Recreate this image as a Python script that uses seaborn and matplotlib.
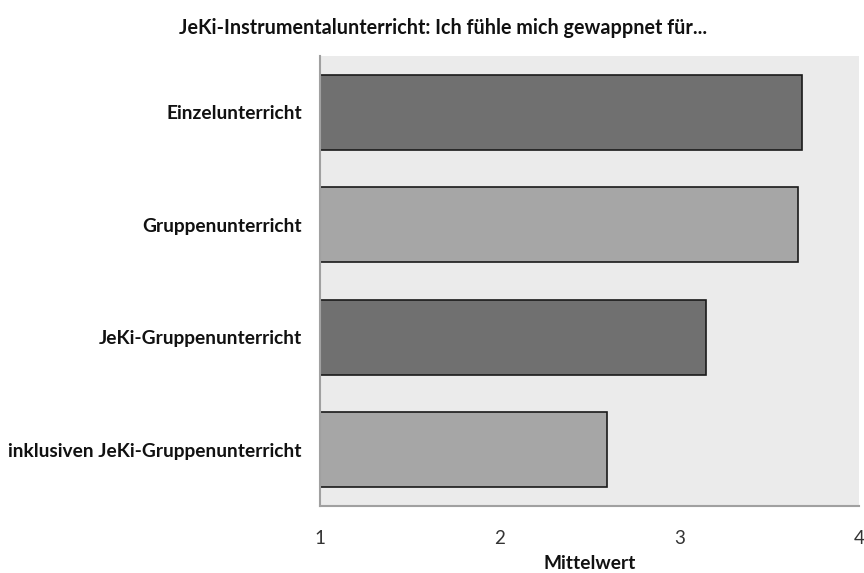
import matplotlib
matplotlib.use("Agg")
import matplotlib.pyplot as plt
import seaborn as sns
import pandas as pd

categories = ["Einzelunterricht", "Gruppenunterricht", "JeKi-Gruppenunterricht",
              "inklusiven JeKi-Gruppenunterricht"]
values = [3.68, 3.66, 3.15, 2.60]
bar_colors = ["#707070", "#a6a6a6", "#707070", "#a6a6a6"]
xticks = [1, 2, 3, 4]
title = "JeKi-Instrumentalunterricht: Ich fühle mich gewappnet für..."
xlabel = "Mittelwert"

sns.set_style("white")
plt.rcParams["font.family"] = ["Lato", "DejaVu Sans"]

df = pd.DataFrame({"cat": categories, "val": values})

fig = plt.figure(figsize=(8.64, 5.73), dpi=100)
ax = fig.add_axes([320/864, 1-506/573, 539/864, 450/573])
ax.set_facecolor("#ebebeb")

sns.barplot(data=df, y="cat", x="val", hue="cat", palette=bar_colors,
            orient="h", width=0.667, edgecolor="#1a1a1a", linewidth=1.2,
            legend=False, ax=ax)

ax.set_xlim(1, 4)
ax.set_ylim(3.5, -0.5)
ax.set_xticks(xticks)
ax.set_xticklabels([str(t) for t in xticks], fontsize=13.5, color="#333333")
ax.tick_params(axis="x", direction="out", length=8, width=1, color="#a0a0a0", pad=9)
ax.tick_params(axis="y", direction="out", length=5, width=1, color="#a0a0a0", pad=8)
for lab in ax.get_yticklabels():
    lab.set_fontweight("bold")
    lab.set_fontsize(13.8)
    lab.set_color("#111111")
ax.set_ylabel("")
ax.set_xlabel(xlabel, fontsize=13.8, fontweight="bold", color="#111111", labelpad=6)

for s in ["top", "right"]:
    ax.spines[s].set_visible(False)
for s in ["left", "bottom"]:
    ax.spines[s].set_color("#a0a0a0")
    ax.spines[s].set_linewidth(1.5)

fig.text(443/864, 1-28/573, title, ha="center", va="center",
         fontsize=14.2, fontweight="bold", color="#111111")

fig.savefig("out.png", dpi=100)
